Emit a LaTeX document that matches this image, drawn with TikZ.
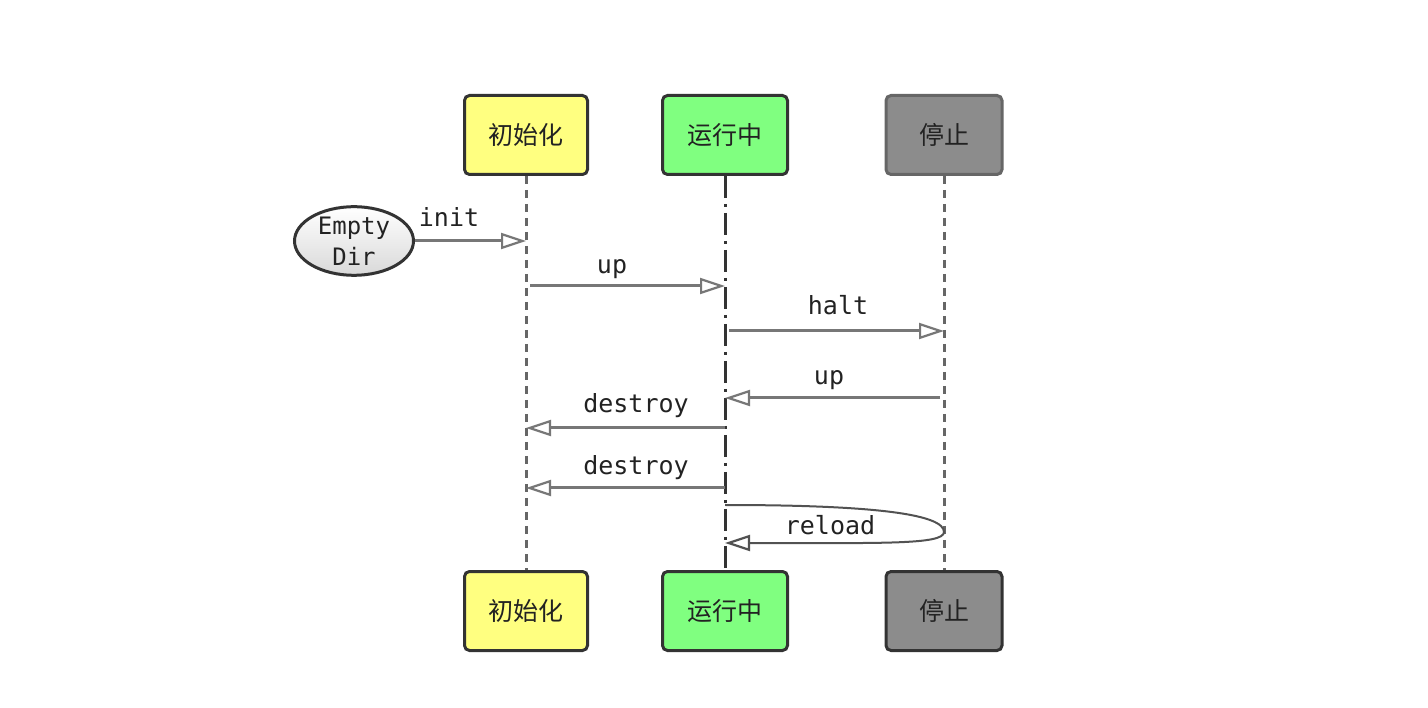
\documentclass[tikz,border=0pt]{standalone}
\usepackage{fontspec}
\newfontfamily\cjk{Noto Sans CJK SC}
\newfontfamily\mono{DejaVu Sans Mono}
\usetikzlibrary{arrows.meta,shapes.geometric}
\definecolor{boxline}{HTML}{333333}
\definecolor{yel}{HTML}{FFFF80}
\definecolor{grn}{HTML}{80FF80}
\definecolor{gry}{HTML}{8C8C8C}
\definecolor{msg}{HTML}{777777}
\definecolor{life}{HTML}{666666}
\definecolor{txt}{HTML}{222222}
\tikzset{
  actor/.style={rectangle, rounded corners=5pt, draw=boxline, line width=3pt,
    minimum height=79pt, text=txt, font=\cjk\fontsize{25}{30}\selectfont, inner sep=0pt},
  lifeline/.style={draw=life, line width=3pt, dash pattern=on 8pt off 6pt},
  runline/.style={draw=boxline, line width=3pt, dash pattern=on 22pt off 6pt on 3pt off 6pt},
  message/.style={draw=msg, line width=3pt,
    -{Triangle[open, length=25pt, width=16pt, fill=white, line width=2.2pt]}},
  selfmsg/.style={draw=boxline!85, line width=2pt,
    -{Triangle[open, length=25pt, width=16pt, fill=white, line width=2.2pt]}},
  lbl/.style={font=\mono\fontsize{25}{30}\selectfont, text=txt, inner sep=0pt, anchor=base},
}
\begin{document}
\begin{tikzpicture}[x=1pt,y=-1pt]
\useasboundingbox (0,0) rectangle (1428,708);
% actors
\node[actor, fill=yel, minimum width=123pt] (initT) at (526,135) {初始化};
\node[actor, fill=grn, minimum width=125pt] (runT) at (725,135) {运行中};
\node[actor, fill=gry, minimum width=116pt, draw=life] (stopT) at (944,135) {停止};
\node[actor, fill=yel, minimum width=123pt] (initB) at (526,611) {初始化};
\node[actor, fill=grn, minimum width=125pt] (runB) at (725,611) {运行中};
\node[actor, fill=gry, minimum width=116pt] (stopB) at (944,611) {停止};
% lifelines
\draw[lifeline] (initT.south) -- (initB.north);
\draw[runline] (runT.south) -- (runB.north);
\draw[lifeline] (stopT.south) -- (stopB.north);
% empty dir
\node[ellipse, draw=boxline, line width=3pt, minimum width=119pt, minimum height=65pt,
  top color=white, bottom color=black!15, inner sep=0pt, align=center,
  font=\mono\fontsize{24}{31}\selectfont, text=txt] (empty) at (354,241) {Empty\\Dir};
% anchor points on lifelines
\coordinate (i1) at (526,241);
\coordinate (i2s) at (530,286); \coordinate (r2) at (725,286);
\coordinate (r3) at (729,331); \coordinate (s3) at (944,331);
\coordinate (s4) at (940,398); \coordinate (r4) at (725,398);
\coordinate (r5) at (725,428); \coordinate (i5) at (526,428);
\coordinate (r6) at (725,488); \coordinate (i6) at (526,488);
\coordinate (r7a) at (725,505); \coordinate (s7) at (944,532); \coordinate (r7b) at (725,543);
% messages
\draw[message] (empty.east) -- (i1);
\node[lbl] (linit) at (449,227) {init};
\draw[message] (i2s) -- (r2);
\node[lbl] (lup1) at (612,274) {up};
\draw[message] (r3) -- (s3);
\node[lbl] (lhalt) at (838,315) {halt};
\draw[message] (s4) -- (r4);
\node[lbl] (lup2) at (829,385) {up};
\draw[message] (r5) -- (i5);
\node[lbl] (ld1) at (636,413) {destroy};
\draw[message] (r6) -- (i6);
\node[lbl] (ld2) at (636,475) {destroy};
\draw[selfmsg] (r7a) .. controls (880,505) and (944,515) .. (s7)
  .. controls (944,545) and (880,543) .. (r7b);
\node[lbl] (lrel) at (830,535) {reload};
\end{tikzpicture}
\end{document}
